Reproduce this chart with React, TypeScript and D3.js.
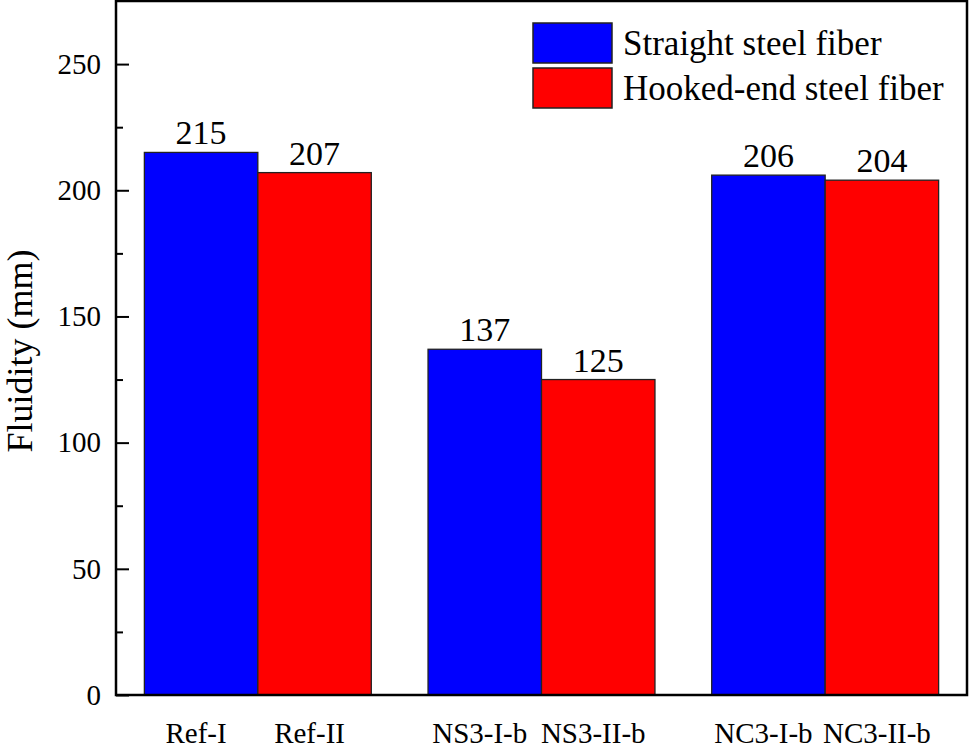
import { useEffect, useRef } from 'react';
import * as d3 from 'd3';

const categories = ['Ref', 'NS3', 'NC3'];
const seriesNames = ['Straight steel fiber', 'Hooked-end steel fiber'];
const seriesKeys = ['straight', 'hooked'];
const seriesColors = ['#0000FF', '#FF0000'];
const straightLabels = ['Ref-I', 'NS3-I-b', 'NC3-I-b'];
const hookedLabels = ['Ref-II', 'NS3-II-b', 'NC3-II-b'];
const straightValues = [215, 137, 206];
const hookedValues = [207, 125, 204];
const majorTicks = [0, 50, 100, 150, 200, 250];
const minorTicks = [25, 75, 125, 175, 225];

const FONT = "'Times New Roman', 'Liberation Serif', serif";

export default function App() {
  const svgRef = useRef<SVGSVGElement>(null);
  const width = 970;
  const height = 753;

  useEffect(() => {
    if (!svgRef.current) return;
    const svg = d3.select(svgRef.current);
    svg.selectAll('*').remove();

    const plot = { left: 116, right: 967, top: 1, bottom: 695 };

    const y = d3.scaleLinear().domain([0, 275]).range([plot.bottom, plot.top]);
    const x0 = d3
      .scaleBand<string>()
      .domain(categories)
      .range([plot.left, plot.right])
      .paddingInner(0.2)
      .paddingOuter(0.1);
    const x1 = d3
      .scaleBand<string>()
      .domain(seriesKeys)
      .range([0, x0.bandwidth()]);

    const rows = categories.map((cat, i) => ({
      cat,
      bars: [
        { key: 'straight', value: straightValues[i], label: straightLabels[i] },
        { key: 'hooked', value: hookedValues[i], label: hookedLabels[i] },
      ],
    }));
    const color = d3.scaleOrdinal<string, string>().domain(seriesKeys).range(seriesColors);

    // bars
    const groups = svg
      .append('g')
      .selectAll('g')
      .data(rows)
      .join('g')
      .attr('transform', (d) => `translate(${x0(d.cat)},0)`);

    groups
      .selectAll('rect')
      .data((d) => d.bars)
      .join('rect')
      .attr('x', (d) => x1(d.key) ?? 0)
      .attr('y', (d) => y(d.value))
      .attr('width', x1.bandwidth())
      .attr('height', (d) => y(0) - y(d.value))
      .attr('fill', (d) => color(d.key))
      .attr('stroke', '#222')
      .attr('stroke-width', 1.3);

    groups
      .selectAll('text.val')
      .data((d) => d.bars)
      .join('text')
      .attr('class', 'val')
      .attr('x', (d) => (x1(d.key) ?? 0) + x1.bandwidth() / 2)
      .attr('y', (d) => y(d.value) - 8)
      .attr('text-anchor', 'middle')
      .style('font-family', FONT)
      .style('font-size', '34px')
      .attr('fill', '#000')
      .text((d) => d.value);

    // category labels sit a little left of the bar centres
    groups
      .selectAll('text.cat')
      .data((d) => d.bars)
      .join('text')
      .attr('class', 'cat')
      .attr('x', (d) => (x1(d.key) ?? 0) + x1.bandwidth() / 2 - 5)
      .attr('y', 743)
      .attr('text-anchor', 'middle')
      .style('font-family', FONT)
      .style('font-size', '29px')
      .attr('fill', '#000')
      .text((d) => d.label);

    // y axis
    const yAxis = d3
      .axisLeft(y)
      .tickValues(majorTicks)
      .tickSizeInner(-13)
      .tickSizeOuter(0)
      .tickPadding(15)
      .tickFormat((v) => d3.format('d')(Number(v)));

    svg
      .append('g')
      .attr('transform', `translate(${plot.left},0)`)
      .call(yAxis)
      .call((g) => {
        g.select('.domain').remove();
        g.selectAll('.tick line').attr('stroke', '#000').attr('stroke-width', 2);
        g.selectAll('.tick text')
          .attr('fill', '#000')
          .style('font-size', '29px')
          .style('font-family', FONT);
      });

    svg
      .append('g')
      .attr('transform', `translate(${plot.left},0)`)
      .call(d3.axisLeft(y).tickValues(minorTicks).tickSizeInner(-7).tickSizeOuter(0).tickFormat(() => ''))
      .call((g) => {
        g.select('.domain').remove();
        g.selectAll('.tick line').attr('stroke', '#000').attr('stroke-width', 2);
      });

    // frame
    svg
      .append('rect')
      .attr('x', plot.left)
      .attr('y', plot.top)
      .attr('width', plot.right - plot.left)
      .attr('height', plot.bottom - plot.top)
      .attr('fill', 'none')
      .attr('stroke', '#000')
      .attr('stroke-width', 2.5);

    // y title
    svg
      .append('text')
      .attr('transform', `translate(32,${(plot.top + plot.bottom) / 2 + 3}) rotate(-90)`)
      .attr('text-anchor', 'middle')
      .style('font-family', FONT)
      .style('font-size', '36px')
      .attr('fill', '#000')
      .text('Fluidity (mm)');

    // legend
    const legend = svg
      .append('g')
      .selectAll('g')
      .data(seriesNames)
      .join('g')
      .attr('transform', (_, i) => `translate(533,${23 + i * 45})`);

    legend
      .append('rect')
      .attr('width', 79)
      .attr('height', 40)
      .attr('fill', (_, i) => seriesColors[i])
      .attr('stroke', '#222')
      .attr('stroke-width', 1.5);

    legend
      .append('text')
      .attr('x', 90)
      .attr('y', 32)
      .style('font-family', FONT)
      .style('font-size', '35px')
      .attr('fill', '#000')
      .text((d) => d);
  }, []);

  return (
    <>
      <style>{'body{margin:0;background:#fff}'}</style>
      <svg ref={svgRef} width={width} height={height} viewBox={`0 0 ${width} ${height}`} style={{ display: 'block' }} />
    </>
  );
}
